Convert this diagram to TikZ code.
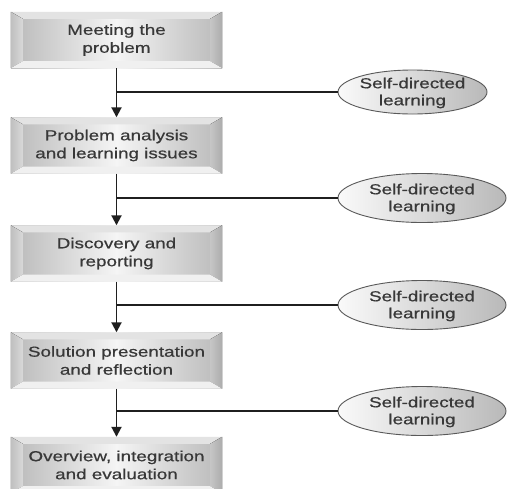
\documentclass[tikz,border=0pt]{standalone}
\usepackage{fontspec}
\setmainfont{Liberation Sans}
\newfontfamily\widefont[FakeStretch=1.3,FakeBold=0.6]{Liberation Sans}
\usetikzlibrary{calc,shapes.geometric,arrows.meta}
\tikzset{
  stagebox/.style={rectangle, minimum width=211pt, minimum height=56pt, inner sep=0pt,
    left color=gray!55, right color=gray!55, middle color=gray!8,
    text=black!78, align=center, font=\widefont\fontsize{14.5}{18}\selectfont},
  sdl/.style={ellipse, draw=black!65, line width=0.9pt, inner sep=0pt,
    left color=gray!4, right color=gray!55},
  sdltext/.style={text=black!78, align=center, font=\widefont\fontsize{14.5}{17}\selectfont},
  flow/.style={line width=1.9pt, draw=black!88},
  arr/.style={flow, -{Triangle[width=10pt,length=10pt]}},
  bevtop/.style={fill=gray!22},
  bevleft/.style={left color=gray!50, right color=gray!30},
  bevright/.style={left color=gray!45, right color=gray!65},
  bevbot/.style={fill=gray!12},
}
\begin{document}
\begin{tikzpicture}[x=1pt, y=-1pt]
  \useasboundingbox (0,0) rectangle (508,488);
  \fill[white] (0,0) rectangle (508,488);

  \node[stagebox] (b1) at (116.5,40) {Meeting the\\problem};
  \node[stagebox] (b2) at (116.5,145.5) {Problem analysis\\and learning issues};
  \node[stagebox] (b3) at (116.5,253.5) {Discovery and\\reporting};
  \node[stagebox] (b4) at (116.5,360.5) {Solution presentation\\and reflection};
  \node[stagebox] (b5) at (116.5,465) {Overview, integration\\and evaluation};

  \foreach \n in {b1,b2,b3,b4,b5}{
    \fill[bevtop] (\n.north west) -- (\n.north east) -- ($(\n.north east)+(-12,7)$) -- ($(\n.north west)+(12,7)$) -- cycle;
    \fill[bevleft] (\n.north west) -- ($(\n.north west)+(12,7)$) -- ($(\n.south west)+(12,-7)$) -- (\n.south west) -- cycle;
    \fill[bevright] (\n.north east) -- ($(\n.north east)+(-12,7)$) -- ($(\n.south east)+(-12,-7)$) -- (\n.south east) -- cycle;
    \fill[bevbot] (\n.south west) -- ($(\n.south west)+(12,-7)$) -- ($(\n.south east)+(-12,-7)$) -- (\n.south east) -- cycle;
  }

  \node[sdl, minimum width=149pt, minimum height=44pt] (e1) at (412.5,92) {};
  \node[sdl, minimum width=168pt, minimum height=49pt] (e2) at (422,198) {};
  \node[sdl, minimum width=168pt, minimum height=49pt] (e3) at (422,305) {};
  \node[sdl, minimum width=168pt, minimum height=49pt] (e4) at (422,411) {};
  \foreach \e in {e1,e2,e3,e4}{
    \node[sdltext] (t\e) at ($(\e.center)+(0,1)$ -| 425,0) {Self-directed\\learning};
  }

  \draw[arr] (b1.south) -- (b2.north);
  \draw[arr] (b2.south) -- (b3.north);
  \draw[arr] (b3.south) -- (b4.north);
  \draw[arr] (b4.south) -- (b5.north);

  \draw[flow] (b1.south |- e1.west) -- (e1.west);
  \draw[flow] (b2.south |- e2.west) -- (e2.west);
  \draw[flow] (b3.south |- e3.west) -- (e3.west);
  \draw[flow] (b4.south |- e4.west) -- (e4.west);
\end{tikzpicture}
\end{document}
